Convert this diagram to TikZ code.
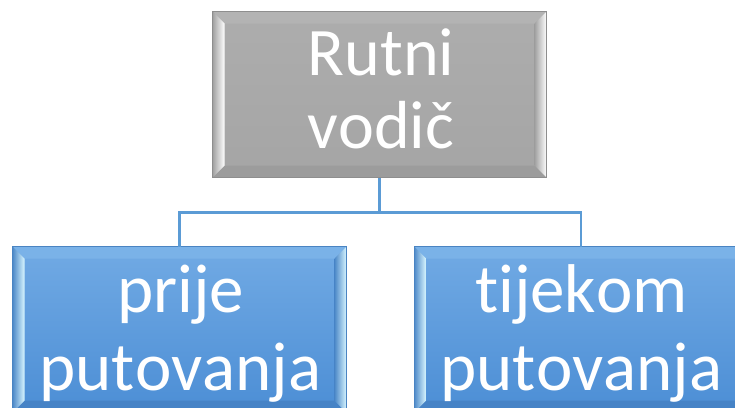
\documentclass[tikz,border=0pt]{standalone}
\usepackage{fontspec}
\setmainfont{Carlito}[Ligatures=NoCommon, Kerning=Off]
\usetikzlibrary{calc}
\definecolor{gTop}{HTML}{ADADAD}
\definecolor{gBot}{HTML}{A5A5A5}
\definecolor{gEdge}{HTML}{8E8E8E}
\definecolor{gBevT}{HTML}{B3B3B3}
\definecolor{gBevB}{HTML}{9C9C9C}
\definecolor{gBevL}{HTML}{A0A0A0}
\definecolor{bTop}{HTML}{71AAE4}
\definecolor{bBot}{HTML}{4C8ED5}
\definecolor{bEdge}{HTML}{4A84C2}
\definecolor{bBevT}{HTML}{7AB2E8}
\definecolor{bBevB}{HTML}{4683C6}
\definecolor{bBevL}{HTML}{4C88C8}
\definecolor{bHi}{HTML}{D8F6FF}
\definecolor{conn}{HTML}{5B9BD5}
\tikzset{
  box/.style={minimum width=333pt, minimum height=165pt, inner sep=0pt, line width=1pt},
  greybox/.style={box, draw=gEdge, top color=gTop, bottom color=gBot},
  bluebox/.style={box, draw=bEdge, top color=bTop, bottom color=bBot},
  lbl/.style={anchor=base, text=white, inner sep=0pt, font=\fontsize{68}{74}\selectfont},
  lblb/.style={lbl, font=\fontsize{69}{76}\selectfont},
  connector/.style={draw=conn, line width=2.5pt}
}
\newcommand\bevelof[6]{% node, left-outer, highlight, top, bottom, edge
  \path (#1.north west) coordinate (o1) (#1.north east) coordinate (o2)
        (#1.south east) coordinate (o3) (#1.south west) coordinate (o4);
  \path ($(o1)+(12,12)$) coordinate (i1) ($(o2)+(-12,12)$) coordinate (i2)
        ($(o3)+(-12,-12)$) coordinate (i3) ($(o4)+(12,-12)$) coordinate (i4);
  \fill[#4] (o1)--(o2)--(i2)--(i1)--cycle;
  \fill[#5] (o4)--(o3)--(i3)--(i4)--cycle;
  \shade[left color=#2, right color=#3] (o1)--(i1)--(i4)--(o4)--cycle;
  \shade[left color=#2, right color=#3] (i2)--(o2)--(o3)--(i3)--cycle;
  \draw[#6, line width=1pt] (o1)--(o2)--(o3)--(o4)--cycle;
}
\begin{document}
\begin{tikzpicture}[x=1pt,y=-1pt]
  \useasboundingbox (0,0) rectangle (735,407);
  \clip (0,0) rectangle (735,407);
  \node[greybox] (root) at (379.5,94.5) {};
  \node[bluebox] (left) at (179.5,329.5) {};
  \node[bluebox] (right) at (581,329.5) {};
  \bevelof{root}{gBevL}{white}{gBevT}{gBevB}{gEdge}
  \bevelof{left}{bBevL}{bHi}{bBevT}{bBevB}{bEdge}
  \bevelof{right}{bBevL}{bHi}{bBevT}{bBevB}{bEdge}
  \coordinate (bus) at ($(root.south)+(0,35)$);
  \draw[connector] (root.south) -- (bus) -| (left.north);
  \draw[connector] (bus) -| (right.north);
  \node[lbl] (r1) at (381,75) {Rutni};
  \node[lbl] (r2) at (381,148) {vodič};
  \node[lblb] (l1) at (180.5,312) {prije};
  \node[lblb] (l2) at (180.5,390) {putovanja};
  \node[lblb] (q1) at (581.5,312) {tijekom};
  \node[lblb] (q2) at (581.5,390) {putovanja};
\end{tikzpicture}
\end{document}
